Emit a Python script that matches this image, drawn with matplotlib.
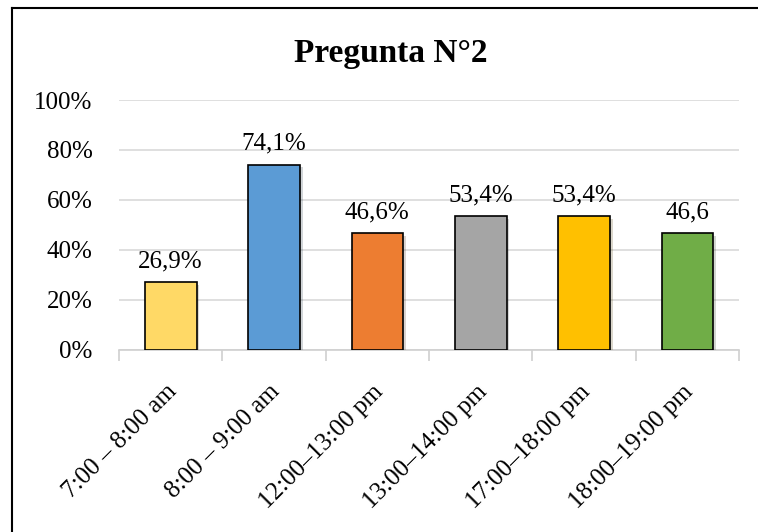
import matplotlib.pyplot as plt
import matplotlib.patheffects as pe
import matplotlib.transforms as mtransforms
from matplotlib.lines import Line2D
import numpy as np

# Datos de la pregunta 2
horarios = ['7:00 – 8:00 am', '8:00 – 9:00 am', '12:00–13:00 pm',
            '13:00–14:00 pm', '17:00–18:00 pm', '18:00–19:00 pm']
porcentajes = [0.269, 0.741, 0.466, 0.534, 0.534, 0.466]
etiquetas = ['26,9%', '74,1%', '46,6%', '53,4%', '53,4%', '46,6']
colores = ['#FFD966', '#5B9BD5', '#ED7D31', '#A5A5A5', '#FFC000', '#70AD47']

plt.rcParams['font.family'] = ['Liberation Serif', 'DejaVu Serif']

fig = plt.figure(figsize=(7.58, 5.32), dpi=100)
ax = fig.add_axes([0.157, 0.343, 0.818, 0.469])

x = np.arange(len(horarios))
barras = ax.bar(x, porcentajes, width=0.5, color=colores, edgecolor='black',
                linewidth=1.2, zorder=3)
for b in barras:
    b.set_path_effects([pe.SimplePatchShadow(offset=(2, -2), alpha=0.2),
                        pe.Normal()])

for xi, v, txt in zip(x, porcentajes, etiquetas):
    ax.annotate(txt, (xi, v), xytext=(0, 7), textcoords='offset points',
                ha='center', va='bottom', fontsize=18)

ax.set_ylim(0, 1)
ax.set_xlim(-0.5, len(horarios) - 0.5)
ticks_y = np.arange(0, 1.01, 0.2)
ax.set_yticks(ticks_y)
ax.set_yticklabels([f'{int(round(t * 100))}%' for t in ticks_y])
ax.tick_params(axis='y', length=0, pad=19, labelsize=18)
ax.grid(axis='y', color='#D9D9D9', linewidth=1.2, zorder=0)

# marcas entre categorías
ax.set_xticks(np.arange(-0.5, len(horarios)), minor=False)
ax.set_xticklabels([])
ax.tick_params(axis='x', length=8, color='#D0D0D0', width=1.2)
ax.set_xticks(x, minor=True)
ax.set_xticklabels(horarios, minor=True, rotation=45, ha='right', va='center',
                   rotation_mode='anchor', fontsize=18)
ax.tick_params(axis='x', which='minor', length=0, pad=28)
desplaza = mtransforms.ScaledTranslation(2 / 72, 0, fig.dpi_scale_trans)
for lbl in ax.get_xticklabels(minor=True):
    lbl.set_transform(lbl.get_transform() + desplaza)

for lado in ['left', 'right', 'top']:
    ax.spines[lado].set_visible(False)
ax.spines['bottom'].set_color('#D0D0D0')
ax.spines['bottom'].set_linewidth(1.2)

fig.text(0.515, 0.9, 'Pregunta N°2', ha='center', va='center',
         fontsize=24, fontweight='bold')

# marco del gráfico
fig.add_artist(Line2D([12 / 758, 12 / 758], [0, 1 - 8 / 532],
                      transform=fig.transFigure, color='black', linewidth=1.5))
fig.add_artist(Line2D([12 / 758, 1], [1 - 8 / 532, 1 - 8 / 532],
                      transform=fig.transFigure, color='black', linewidth=1.5))

fig.savefig('out.png', dpi=100)
